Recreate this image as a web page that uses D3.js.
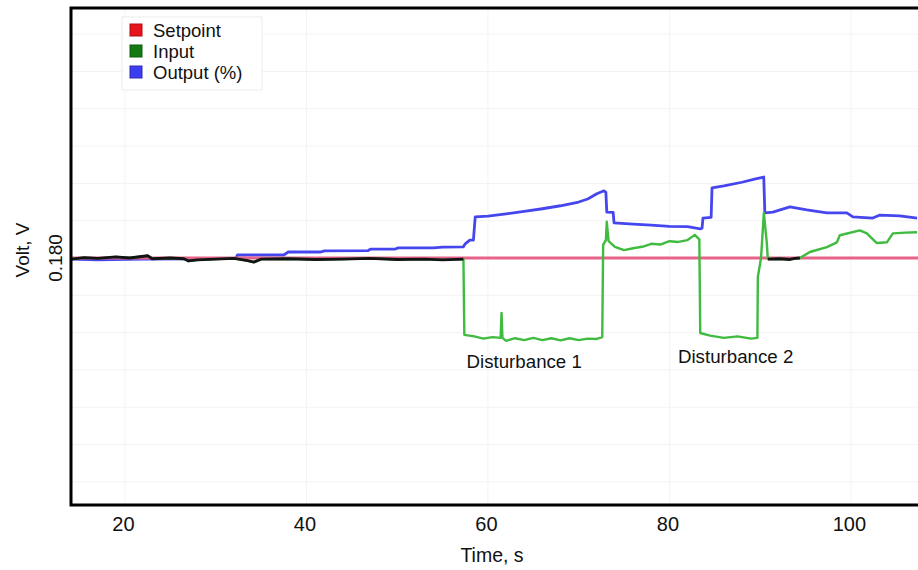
<!DOCTYPE html>
<html>
<head>
<meta charset="utf-8">
<script src="https://cdn.jsdelivr.net/npm/d3@7"></script>
<style>
  body { margin: 0; background: #fff; }
  svg { display: block; font-family: "Liberation Sans", Arial, sans-serif; }
</style>
</head>
<body>
<svg id="chart" width="918" height="570"></svg>
<script>
// values (time in s, volt in V)
const setpoint = 0.180

const inputTime = [14.0, 15.5, 17.0, 19.0, 20.5, 22.5, 23.0, 25.0, 26.5, 27.0, 28.0, 30.0, 32.0, 33.5, 34.2, 35.0,
  38.0, 41.0, 44.0, 47.0, 50.0, 53.0, 55.0, 57.3,
  57.4, 58.5, 59.5, 60.5, 61.4, 61.5, 61.6, 62.0, 63.0, 64.0, 65.0, 66.0, 67.0, 68.0, 69.0, 70.0, 71.0, 72.0, 72.6,
  72.7, 73.0, 73.1, 73.3, 74.0, 75.0, 76.0, 77.0, 78.0, 79.0, 80.0, 81.0, 82.0, 82.8, 83.3,
  83.4, 84.5, 86.0, 87.5, 89.0, 89.7,
  89.75, 90.1, 90.41, 90.74, 90.85, 92.17, 93.28, 93.83, 94.38, 95.48, 97.36, 98.46, 98.79, 100.99, 101.76,
  102.86, 103.97, 104.63, 106.0, 107.3]
const inputVolt = [0.1797, 0.1801, 0.1799, 0.1803, 0.1800, 0.1806, 0.1798, 0.1800, 0.1798, 0.1792, 0.1795, 0.1797, 0.1799, 0.1793, 0.1789, 0.1797,
  0.1798, 0.1796, 0.1797, 0.1799, 0.1796, 0.1797, 0.1795, 0.1797,
  0.1594, 0.1590, 0.1584, 0.1588, 0.1586, 0.1653, 0.1586, 0.1578, 0.1585, 0.1580, 0.1586, 0.1580, 0.1585, 0.1579, 0.1585, 0.1580, 0.1584, 0.1583, 0.1588,
  0.1835, 0.1848, 0.1897, 0.1845, 0.1830, 0.1821, 0.1826, 0.1830, 0.1838, 0.1836, 0.1845, 0.1843, 0.1848, 0.1862, 0.1850,
  0.1599, 0.1592, 0.1586, 0.1590, 0.1584, 0.1586,
  0.1749, 0.1800, 0.1921, 0.1840, 0.1797, 0.1798, 0.1796, 0.1799, 0.1800, 0.1816, 0.1829, 0.1842, 0.1861, 0.1874, 0.1866,
  0.1840, 0.1842, 0.1866, 0.1868, 0.1869]

const outputTime = [14.0, 17.0, 22.0, 28.0, 32.2, 32.4, 37.5, 38.0, 41.5, 42.0, 46.8, 47.1, 49.8, 50.1, 54.0, 55.0, 57.3, 57.5, 58.0, 58.4,
  58.6, 60.0, 62.0, 64.0, 66.0, 68.0, 70.0, 71.0, 72.0, 72.8, 73.0, 73.1, 73.8, 73.9, 76.0, 78.0, 80.0, 82.0, 83.4, 83.6,
  83.7, 84.6, 84.7, 86.0, 88.0, 89.5, 90.4, 90.52, 91.41, 93.28, 95.15, 97.36, 99.56, 100.22, 102.42, 103.2, 105.4, 107.3]
const outputVolt = [0.1797, 0.1795, 0.1797, 0.1798, 0.1799, 0.1808, 0.1808, 0.1816, 0.1816, 0.1819, 0.1820, 0.1824, 0.1824, 0.1827, 0.1827, 0.1829, 0.1830, 0.1838, 0.1848, 0.1848,
  0.1910, 0.1912, 0.1918, 0.1925, 0.1932, 0.1940, 0.1950, 0.1958, 0.1972, 0.1980, 0.1976, 0.1923, 0.1922, 0.1894, 0.1891, 0.1888, 0.1885, 0.1884, 0.1878, 0.1880,
  0.1907, 0.1909, 0.1988, 0.1993, 0.2003, 0.2012, 0.2017, 0.1921, 0.1923, 0.1937, 0.1929, 0.1921, 0.1921, 0.1910, 0.1907, 0.1915, 0.1913, 0.1907]

const xTicks = [20, 40, 60, 80, 100]
const yTicks = [0.180]
const legendLabels = ['Setpoint', 'Input', 'Output (%)']
const legendColors = ['#e8141c', '#137a13', '#3c3cf0']
const annotationLabels = ['Disturbance 1', 'Disturbance 2']
const annotationTime = [64.0, 87.3]
const annotationVolt = [0.1505, 0.1518]

const plot = { left: 71, top: 8, right: 918, bottom: 505 }
const svg = d3.select('#chart')

const x = d3.scaleLinear()
  .domain([14.05, 107.4])
  .range([plot.left, plot.right])

const y = d3.scaleLinear()
  .domain([0.1138, 0.2470])
  .range([plot.bottom, plot.top])

const inputData = inputTime.map((t, i) => ({ t, v: inputVolt[i] }))
const outputData = outputTime.map((t, i) => ({ t, v: outputVolt[i] }))

svg.append('defs').append('clipPath').attr('id', 'plotClip')
  .append('rect')
  .attr('x', plot.left).attr('y', plot.top)
  .attr('width', plot.right - plot.left).attr('height', plot.bottom - plot.top)

// faint grid
const grid = svg.append('g')
grid.selectAll('line.h')
  .data(d3.range(0.12, 0.2451, 0.01))
  .join('line')
  .attr('x1', plot.left).attr('x2', plot.right)
  .attr('y1', d => y(d)).attr('y2', d => y(d))
  .style('stroke', '#f3f3f3')
grid.selectAll('line.v')
  .data(xTicks)
  .join('line')
  .attr('x1', d => x(d)).attr('x2', d => x(d))
  .attr('y1', plot.top).attr('y2', plot.bottom)
  .style('stroke', '#f3f3f3')

const line = d3.line()
  .x(d => x(d.t))
  .y(d => y(d.v))

const lines = svg.append('g').attr('clip-path', 'url(#plotClip)')

lines.append('path')
  .datum(outputData)
  .attr('d', line)
  .style('fill', 'none')
  .style('stroke', '#4646ee')
  .style('stroke-width', 2.8)
  .style('stroke-linejoin', 'round')

lines.append('path')
  .datum([{ t: x.domain()[0], v: setpoint }, { t: x.domain()[1], v: setpoint }])
  .attr('d', line)
  .style('fill', 'none')
  .style('stroke', '#e8638c')
  .style('stroke-width', 3)

lines.append('path')
  .datum(inputData)
  .attr('d', line)
  .style('fill', 'none')
  .style('stroke', '#3fbb3f')
  .style('stroke-width', 2.4)
  .style('stroke-linejoin', 'round')

// input on target drawn dark
lines.append('path')
  .datum(inputData)
  .attr('d', line.defined(d => Math.abs(d.v - setpoint) < 0.0015))
  .style('fill', 'none')
  .style('stroke', '#141414')
  .style('stroke-width', 2.8)
  .style('stroke-linejoin', 'round')

// frame
svg.append('rect')
  .attr('x', plot.left).attr('y', plot.top)
  .attr('width', plot.right - plot.left + 40).attr('height', plot.bottom - plot.top)
  .style('fill', 'none')
  .style('stroke', '#000')
  .style('stroke-width', 3)

const xAxis = d3.axisBottom(x)
  .tickValues(xTicks)
  .tickSize(0)
  .tickPadding(12)

svg.append('g')
  .attr('transform', `translate(0, ${plot.bottom})`)
  .call(xAxis)
  .call(g => g.select('.domain').remove())
  .call(g => g.selectAll('.tick text')
    .attr('dx', -2)
    .style('font-size', '20px')
    .style('font-family', '"Liberation Sans", Arial, sans-serif')
    .style('fill', '#111'))

svg.append('g')
  .selectAll('text')
  .data(yTicks)
  .join('text')
  .attr('transform', d => `translate(62, ${y(d)}) rotate(-90)`)
  .attr('text-anchor', 'middle')
  .style('font-size', '19px')
  .style('fill', '#111')
  .text(d => d3.format('.3f')(d))

svg.append('text')
  .attr('x', 492).attr('y', 562)
  .attr('text-anchor', 'middle')
  .style('font-size', '19.5px')
  .style('fill', '#111')
  .text('Time, s')

svg.append('text')
  .attr('transform', 'translate(29, 250) rotate(-90)')
  .attr('text-anchor', 'middle')
  .style('font-size', '19px')
  .style('fill', '#111')
  .text('Volt, V')

svg.append('g')
  .selectAll('text')
  .data(annotationLabels)
  .join('text')
  .attr('x', (d, i) => x(annotationTime[i]))
  .attr('y', (d, i) => y(annotationVolt[i]))
  .attr('text-anchor', 'middle')
  .style('font-size', '18.7px')
  .style('fill', '#111')
  .text(d => d)

// legend
const legend = svg.append('g')
legend.append('rect')
  .attr('x', 122).attr('y', 17)
  .attr('width', 140).attr('height', 73)
  .style('fill', '#fff')
  .style('stroke', '#ececec')

const rows = legend.selectAll('g.row')
  .data(legendLabels)
  .join('g')
  .attr('transform', (d, i) => `translate(130, ${24 + i * 21})`)
rows.append('rect')
  .attr('width', 12).attr('height', 12)
  .style('fill', (d, i) => legendColors[i])
  .style('stroke', (d, i) => d3.color(legendColors[i]).darker(0.8))
rows.append('text')
  .attr('x', 23).attr('y', 13)
  .style('font-size', '18.5px')
  .style('fill', '#111')
  .text(d => d)
</script>
</body>
</html>
